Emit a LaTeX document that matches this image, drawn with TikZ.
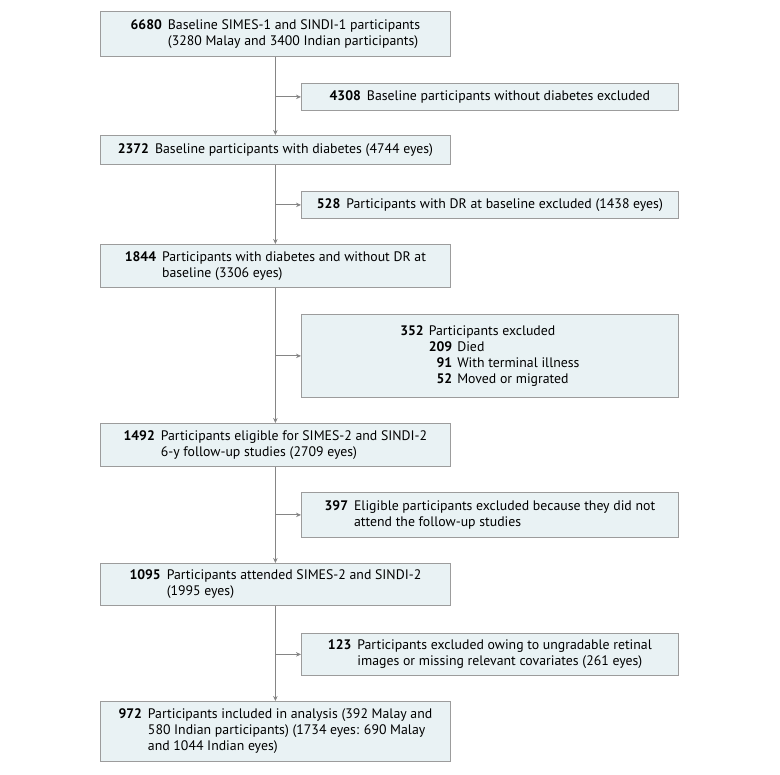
\documentclass[tikz,border=0pt]{standalone}
\usepackage{fontspec}
\setmainfont{PT Sans}
\usetikzlibrary{arrows.meta}
\definecolor{boxfill}{HTML}{E9F2F4}
\definecolor{boxdraw}{HTML}{9C9C9C}
\definecolor{linecol}{HTML}{858585}
\newcommand{\rowtab}[1]{\begin{tabular}{@{}r@{\hspace{6pt}}l@{}}#1\end{tabular}}
\begin{document}
\begin{tikzpicture}[x=1pt,y=-1pt,
  box/.style={draw=boxdraw, fill=boxfill, line width=0.8pt, inner sep=0pt, anchor=north west,
    font=\fontsize{13.8}{16}\selectfont, align=center},
  mainbox/.style={box, minimum width=350pt},
  sidebox/.style={box, minimum width=377pt},
  conn/.style={draw=linecol, line width=0.8pt, -{Stealth[length=5pt,width=4.5pt]}}]
\useasboundingbox (0,0) rectangle (780,775);

\node[mainbox, minimum height=45pt] (b1) at (100,11)
  {\rowtab{\textbf{6680} & Baseline SIMES-1 and SINDI-1 participants\\ & (3280 Malay and 3400 Indian participants)}};
\node[sidebox, minimum height=27pt] (s1) at (301,83)
  {\rowtab{\textbf{4308} & Baseline participants without diabetes excluded}};
\node[mainbox, minimum height=29pt] (b2) at (100,135)
  {\rowtab{\textbf{2372} & Baseline participants with diabetes (4744 eyes)}};
\node[sidebox, minimum height=27pt] (s2) at (301,191)
  {\rowtab{\textbf{528} & Participants with DR at baseline excluded (1438 eyes)}};
\node[mainbox, minimum height=43pt] (b3) at (100,244)
  {\rowtab{\textbf{1844} & Participants with diabetes and without DR at\\ & baseline (3306 eyes)}};
\node[sidebox, minimum height=83pt] (s3) at (301,314)
  {\begin{tabular}{@{}r@{\hspace{5pt}}r@{\hspace{5pt}}l@{}}
   \textbf{352} & \multicolumn{2}{@{}l@{}}{Participants excluded}\\
   & \textbf{209} & Died\\
   & \textbf{91} & With terminal illness\\
   & \textbf{52} & Moved or migrated
   \end{tabular}};
\node[mainbox, minimum height=43pt] (b4) at (100,423)
  {\rowtab{\textbf{1492} & Participants eligible for SIMES-2 and SINDI-2\\ & 6-y follow-up studies (2709 eyes)}};
\node[sidebox, minimum height=45pt] (s4) at (301,492)
  {\rowtab{\textbf{397} & Eligible participants excluded because they did not\\ & attend the follow-up studies}};
\node[mainbox, minimum height=42pt] (b5) at (100,563)
  {\rowtab{\textbf{1095} & Participants attended SIMES-2 and SINDI-2\\ & (1995 eyes)}};
\node[sidebox, minimum height=42pt] (s5) at (301,633)
  {\rowtab{\textbf{123} & Participants excluded owing to ungradable retinal\\ & images or missing relevant covariates (261 eyes)}};
\node[mainbox, minimum height=60pt] (b6) at (100,701)
  {\rowtab{\textbf{972} & Participants included in analysis (392 Malay and\\ & 580 Indian participants) (1734 eyes: 690 Malay\\ & and 1044 Indian eyes)}};

\foreach \a/\b in {b1/b2,b2/b3,b3/b4,b4/b5,b5/b6}
  \draw[conn] (\a.south) -- (\b.north);
\foreach \s in {s1,s2,s3,s4,s5}
  \draw[conn] (\s.west -| b1.south) -- (\s.west);
\end{tikzpicture}
\end{document}
